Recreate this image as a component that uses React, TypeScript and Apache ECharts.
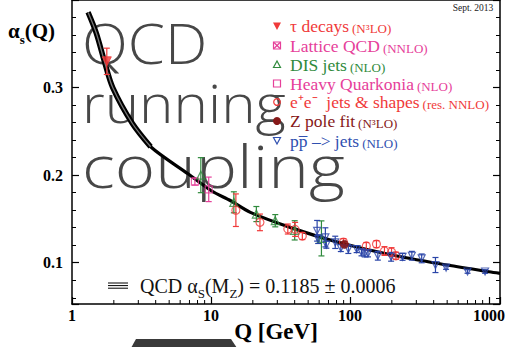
import React, { useEffect, useRef } from "react";
import * as echarts from "echarts";

// ---------- data ----------
const curveQ = [1.305, 1.497, 1.714, 1.963, 2.72, 3.68, 6.87, 10.05, 13.86, 19.2, 37.1, 79.6, 200, 500, 1000, 1200];
const curveA = [0.386, 0.362, 0.3295, 0.3, 0.259, 0.2324, 0.2013, 0.1822, 0.1708, 0.1575, 0.1404, 0.124, 0.1088, 0.0974, 0.0897, 0.0879];
const bandCount = 6; // hatched band drawn over the first points

const tauQ = [1.78];
const tauA = [0.33];
const tauE = [0.015];

const hqQ = [7.66, 9.63];
const hqA = [0.1927, 0.1838];
const hqE = [0.004, 0.014];

const disQ = [8.45, 14.6, 21.2, 29.0, 40.0, 62.3];
const disA = [0.2, 0.169, 0.1556, 0.148, 0.137, 0.1278];
const disE = [0.02, 0.012, 0.0086, 0.007, 0.011, 0.02];

const eeQ = [15.1, 22.5, 35.7, 40.3, 45.4, 89.7, 131, 155, 177, 199, 214];
const eeA = [0.16, 0.1461, 0.1385, 0.1381, 0.1305, 0.1236, 0.1191, 0.1213, 0.1134, 0.1122, 0.108];
const eeE = [0.0186, 0.0095, 0.0057, 0.008, 0.004, 0.004, 0.004, 0.004, 0.005, 0.005, 0.004];

const zQ = [91.19];
const zA = [0.121];
const zE = [0.003];

const ppQ = [58.0, 59.0, 66.5, 67.6, 78.3, 85.9, 97.3, 111.6, 121, 127.7, 134.8, 158.6, 197.6, 238.8, 278.6, 327.9, 412, 491, 701, 937];
const ppA = [0.1365, 0.127, 0.129, 0.1206, 0.1233, 0.1168, 0.1156, 0.1156, 0.1119, 0.1107, 0.1107, 0.108, 0.1068, 0.1068, 0.108, 0.105, 0.0974, 0.0945, 0.09, 0.09];
const ppE = [0.0118, 0.005, 0.0109, 0.004, 0.007, 0.004, 0.005, 0.004, 0.004, 0.004, 0.004, 0.005, 0.005, 0.004, 0.005, 0.005, 0.0086, 0.002, 0.002, 0.002];

const xMajorLabels = [1, 10, 100, 1000];
const xMinorTicks = [2, 3, 4, 5, 6, 7, 8, 9, 20, 30, 40, 50, 60, 70, 80, 90, 200, 300, 400, 500, 600, 700, 800, 900];

const legendMain = ["τ decays", "Lattice QCD", "DIS jets", "Heavy Quarkonia", "e⁺e⁻  jets & shapes", "Z pole fit", "pp̅ –> jets"];
const legendSub = ["(N³LO)", "(NNLO)", "(NLO)", "(NLO)", "(res. NNLO)", "(N³LO)", "(NLO)"];
const legendColors = ["#f03a3a", "#e6409a", "#2f8a3c", "#e6409a", "#f03a3a", "#861818", "#3050b0"];
const overlayWords = ["QCD", "running", "coupling"];

const X_MIN = 1;
const X_MAX = 1200;
const Y_MIN = 0.0529;
const Y_MAX = 0.4;

const SERIF = '"Liberation Serif", "Times New Roman", serif';
const THIN = '"Open Sans", Lato, sans-serif';

const RED = "#f03a3a";
const PINK = "#e6409a";
const GREEN = "#2f8a3c";
const DARKRED = "#861818";
const BLUE = "#2a45a8";

function zip3(q: number[], a: number[], e: number[]) {
  return q.map((v, i) => [v, a[i], e[i]]);
}

function errSeries(q: number[], a: number[], e: number[], color: string) {
  return {
    type: "custom",
    z: 3,
    clip: false,
    data: zip3(q, a, e),
    renderItem: (params: any, api: any) => {
      const x = api.value(0);
      const y = api.value(1);
      const er = api.value(2);
      const t = api.coord([x, y + er]);
      const b = api.coord([x, y - er]);
      const w = 3;
      const st = { stroke: color, lineWidth: 1.2 };
      return {
        type: "group",
        children: [
          { type: "line", shape: { x1: t[0], y1: t[1], x2: b[0], y2: b[1] }, style: st },
          { type: "line", shape: { x1: t[0] - w, y1: t[1], x2: t[0] + w, y2: t[1] }, style: st },
          { type: "line", shape: { x1: b[0] - w, y1: b[1], x2: b[0] + w, y2: b[1] }, style: st },
        ],
      };
    },
  };
}

function markerSeries(q: number[], a: number[], symbol: string, size: number, color: string, filled: boolean, rotate = 0) {
  return {
    type: "scatter",
    z: 4,
    symbol,
    symbolSize: size,
    symbolRotate: rotate,
    data: q.map((v, i) => [v, a[i]]),
    itemStyle: filled
      ? { color, borderColor: color, borderWidth: 1 }
      : { color: "rgba(255,255,255,0)", borderColor: color, borderWidth: 1.2 },
  };
}

function legendMarker(i: number, cx: number, cy: number): any {
  const c = legendColors[i];
  switch (i) {
    case 0:
      return { type: "polygon", shape: { points: [[cx - 4, cy - 3.5], [cx + 4, cy - 3.5], [cx, cy + 4]] }, style: { fill: c } };
    case 1:
      return {
        type: "group",
        children: [
          { type: "rect", shape: { x: cx - 3.5, y: cy - 3.5, width: 7, height: 7 }, style: { fill: "#fff", stroke: c, lineWidth: 1.2 } },
          { type: "line", shape: { x1: cx - 3, y1: cy - 3, x2: cx + 3, y2: cy + 3 }, style: { stroke: c, lineWidth: 1.2 } },
          { type: "line", shape: { x1: cx + 3, y1: cy - 3, x2: cx - 3, y2: cy + 3 }, style: { stroke: c, lineWidth: 1.2 } },
        ],
      };
    case 2:
      return { type: "polygon", shape: { points: [[cx - 3.5, cy + 3], [cx + 3.5, cy + 3], [cx, cy - 3.5]] }, style: { fill: "none", stroke: c, lineWidth: 1.2 } };
    case 3:
      return { type: "rect", shape: { x: cx - 3.5, y: cy - 3.5, width: 7, height: 7 }, style: { fill: "none", stroke: c, lineWidth: 1.2 } };
    case 4:
      return { type: "circle", shape: { cx, cy, r: 3.3 }, style: { fill: "none", stroke: c, lineWidth: 1.2 } };
    case 5:
      return { type: "circle", shape: { cx, cy, r: 4 }, style: { fill: c } };
    default:
      return { type: "polygon", shape: { points: [[cx - 3.5, cy - 3], [cx + 3.5, cy - 3], [cx, cy + 3.5]] }, style: { fill: "none", stroke: c, lineWidth: 1.2 } };
  }
}

export default function App() {
  const ref = useRef<HTMLDivElement>(null);
  useEffect(() => {
    if (!ref.current) return;
    const chart = echarts.init(ref.current, undefined, { renderer: "svg" });

    const legendYs = [26, 45.5, 64.5, 83.5, 102, 121, 140.5];
    const legendGraphics: any[] = [];
    legendMain.forEach((m, i) => {
      const y = legendYs[i];
      legendGraphics.push(legendMarker(i, 277, y));
      legendGraphics.push({
        type: "text",
        style: {
          x: 290,
          y,
          text: `{m|${m}} {s|${legendSub[i]}}`,
          fill: legendColors[i],
          fontFamily: SERIF,
          verticalAlign: "middle",
          align: "left",
          rich: {
            m: { fontSize: 17.5, fontFamily: SERIF, fill: legendColors[i], lineHeight: 18, verticalAlign: "bottom" },
            s: { fontSize: 13, fontFamily: SERIF, fill: legendColors[i], lineHeight: 18, verticalAlign: "bottom" },
          },
        },
      });
    });

    const overlayYs = [42, 102, 166];
    const overlaySizes = [56, 54, 58];
    const overlayScale = [1.07, 1.08, 1.19];
    const overlayGraphics = overlayWords.map((w, i) => ({
      type: "text",
      z: -1,
      x: 82,
      y: overlayYs[i],
      scaleX: overlayScale[i],
      style: {
        x: 0,
        y: 0,
        text: w,
        fill: "#474747",
        fontSize: overlaySizes[i],
        fontFamily: THIN,
        fontWeight: 300,
        lineHeight: overlaySizes[i] * 0.8,
        verticalAlign: "middle",
        align: "left",
      },
    }));

    const yAxisBase = {
      type: "value",
      min: Y_MIN,
      max: Y_MAX,
      splitNumber: 3,
      splitLine: { show: false },
      axisLine: { show: true, lineStyle: { color: "#000", width: 1.5 } },
      axisTick: { show: true, inside: true, length: 7, lineStyle: { color: "#000", width: 1.2 } },
      minorTick: { show: true, splitNumber: 5, length: 4, lineStyle: { color: "#000", width: 1 } },
    };

    const option: any = {
      animation: false,
      backgroundColor: "#fff",
      grid: { left: 72, right: 2, top: 0, bottom: 43 },
      xAxis: [
        {
          type: "log",
          logBase: 10,
          min: X_MIN,
          max: X_MAX,
          position: "bottom",
          splitLine: { show: false },
          axisLine: { show: true, lineStyle: { color: "#000", width: 1.5 } },
          axisTick: { show: true, inside: true, length: 7, lineStyle: { color: "#000", width: 1.2 } },
          axisLabel: {
            color: "#000",
            fontFamily: SERIF,
            fontWeight: "bold",
            fontSize: 16,
            margin: 3,
            formatter: (v: number) => (xMajorLabels.indexOf(Math.round(v)) >= 0 ? String(Math.round(v)) : ""),
          },
        },
        {
          type: "log",
          logBase: 10,
          min: X_MIN,
          max: X_MAX,
          position: "top",
          splitLine: { show: false },
          axisLine: { show: true, lineStyle: { color: "#000", width: 1.5 } },
          axisTick: { show: false },
          axisLabel: { show: false },
        },
      ],
      yAxis: [
        {
          ...yAxisBase,
          position: "left",
          axisLabel: {
            color: "#000",
            fontFamily: SERIF,
            fontWeight: "bold",
            fontSize: 16,
            margin: 9,
            showMinLabel: false,
            showMaxLabel: false,
            formatter: (v: number) => v.toFixed(1),
          },
        },
        {
          ...yAxisBase,
          position: "right",
          axisLabel: { show: false },
        },
      ],
      graphic: [
        ...overlayGraphics,
        ...legendGraphics,
        {
          type: "text",
          style: { x: 473, y: 7.5, text: "Sept. 2013", fill: "#222", fontSize: 9.5, fontFamily: SERIF, align: "center", verticalAlign: "middle" },
        },
        {
          type: "text",
          style: {
            x: 8,
            y: 31,
            text: "{m|α}{s|s}{m|(Q)}",
            verticalAlign: "middle",
            align: "left",
            rich: {
              m: { fontSize: 21, fontWeight: "bold", fontFamily: SERIF, fill: "#000", lineHeight: 24, verticalAlign: "middle" },
              s: { fontSize: 13, fontWeight: "bold", fontFamily: SERIF, fill: "#000", lineHeight: 13, verticalAlign: "bottom", padding: [0, 0, -3, 0] },
            },
          },
        },
        {
          type: "text",
          style: { x: 276, y: 331, text: "Q [GeV]", fill: "#000", fontSize: 23, fontWeight: "bold", fontFamily: SERIF, align: "center", verticalAlign: "middle" },
        },
        {
          type: "polygon",
          shape: { points: [[131, 348], [136, 339], [231, 339], [237, 348]] },
          style: { fill: "#3a3a3a" },
        },
        { type: "line", shape: { x1: 108, y1: 283, x2: 128, y2: 283 }, style: { stroke: "#000", lineWidth: 1 } },
        { type: "line", shape: { x1: 108, y1: 285.6, x2: 128, y2: 285.6 }, style: { stroke: "#000", lineWidth: 1 } },
        { type: "line", shape: { x1: 108, y1: 288.2, x2: 128, y2: 288.2 }, style: { stroke: "#000", lineWidth: 1 } },
        {
          type: "text",
          style: {
            x: 140,
            y: 286,
            text: "{m|QCD α}{s|S}{m|(M}{s|Z}{m|) = 0.1185 ± 0.0006}",
            verticalAlign: "middle",
            align: "left",
            rich: {
              m: { fontSize: 20, fontFamily: SERIF, fill: "#111", lineHeight: 22, verticalAlign: "middle" },
              s: { fontSize: 13, fontFamily: SERIF, fill: "#111", lineHeight: 13, verticalAlign: "bottom", padding: [0, 0, -3, 0] },
            },
          },
        },
      ],
      series: [
        {
          type: "line",
          z: 2,
          smooth: 0.3,
          symbol: "none",
          data: curveQ.map((q, i) => [q, curveA[i]]),
          lineStyle: { color: "#000", width: 3.2 },
        },
        {
          type: "line",
          z: 2,
          smooth: 0.3,
          symbol: "none",
          data: curveQ.slice(0, bandCount).map((q, i) => [q, curveA[i]]),
          lineStyle: { color: "#000", width: 5.5 },
        },
        {
          type: "line",
          z: 2,
          smooth: 0.3,
          symbol: "none",
          data: curveQ.slice(0, bandCount).map((q, i) => [q, curveA[i]]),
          lineStyle: { color: "#777", width: 1.3 },
        },
        {
          type: "custom",
          z: 3,
          clip: false,
          silent: true,
          data: xMinorTicks.map((v) => [v, Y_MIN]),
          renderItem: (params: any, api: any) => {
            const p = api.coord([api.value(0), Y_MIN]);
            return { type: "line", shape: { x1: p[0], y1: p[1], x2: p[0], y2: p[1] - 4 }, style: { stroke: "#000", lineWidth: 1 } };
          },
        },
        errSeries(tauQ, tauA, tauE, RED),
        errSeries(hqQ, hqA, hqE, PINK),
        errSeries(disQ, disA, disE, GREEN),
        errSeries(eeQ, eeA, eeE, RED),
        errSeries(ppQ, ppA, ppE, BLUE),
        errSeries(zQ, zA, zE, DARKRED),
        markerSeries(tauQ, tauA, "triangle", 9, RED, true, 180),
        markerSeries(hqQ, hqA, "rect", 7, PINK, false),
        markerSeries(disQ, disA, "triangle", 8, GREEN, false),
        markerSeries(eeQ, eeA, "circle", 8, RED, false),
        markerSeries(ppQ, ppA, "triangle", 7, BLUE, false, 180),
        markerSeries(zQ, zA, "circle", 8, DARKRED, true),
      ],
    };
    chart.setOption(option);
    return () => chart.dispose();
  }, []);
  return <div ref={ref} style={{ position: "absolute", left: 0, top: 0, width: 508, height: 347 }} />;
}
